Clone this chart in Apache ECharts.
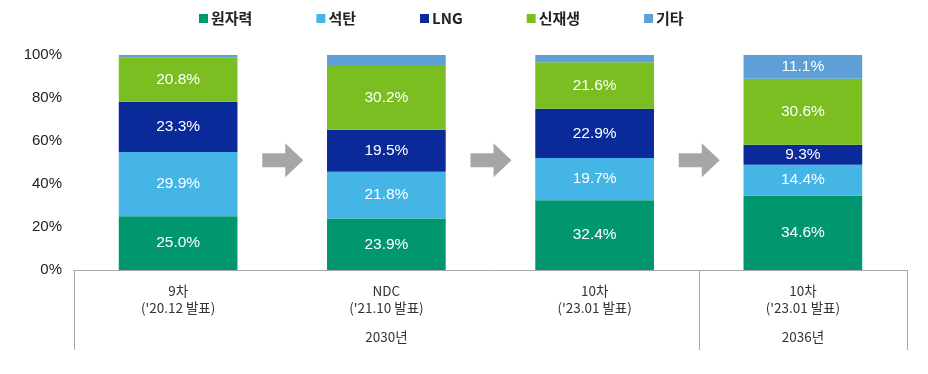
<!DOCTYPE html>
<html><head><meta charset="utf-8">
<script src="https://cdn.jsdelivr.net/npm/echarts@6/dist/echarts.min.js"></script>
<style>html,body{margin:0;padding:0;background:#fff}#c{width:928px;height:374px}</style>
</head><body><div id="c"></div>
<script>
const categories = ["9차\n('20.12 발표)", "NDC\n('21.10 발표)", "10차\n('23.01 발표)", "10차\n('23.01 발표)"];
const groupLabels = ["", "2030년", "", "2036년"];
const seriesNames = ["원자력", "석탄", "LNG", "신재생", "기타"];
const nuclear = [25.0, 23.9, 32.4, 34.6];
const coal = [29.9, 21.8, 19.7, 14.4];
const lng = [23.3, 19.5, 22.9, 9.3];
const renew = [20.8, 30.2, 21.6, 30.6];
const other = [1.0, 4.6, 3.4, 11.1];
const yTicks = [0, 20, 40, 60, 80, 100];
const colors = ["#00976F", "#45B5E6", "#0B2A9A", "#7BBE22", "#5E9FD8"];

const chart = echarts.init(document.getElementById('c'));
const values = [nuclear, coal, lng, renew, other];
const labelFont = "'Liberation Sans', Arial, sans-serif";
const krFont = "'Noto Sans CJK KR', sans-serif";

chart.setOption({
  animation: false,
  color: colors,
  legend: {
    top: 6, left: 194,
    itemWidth: 9, itemHeight: 9, itemGap: 64,
    icon: 'rect',
    textStyle: { fontFamily: krFont, fontSize: 15, fontWeight: 'bold', color: '#222', padding: [0, 0, 0, -2] },
    data: seriesNames
  },
  grid: { left: 74, right: 21, top: 55, bottom: 104 },
  xAxis: [{
    type: 'category', data: categories,
    axisLine: { show: true, lineStyle: { color: '#A6A6A6', width: 1 } },
    axisTick: { show: false },
    axisLabel: { fontFamily: krFont, fontSize: 13.5, lineHeight: 17, color: '#333', margin: 12 }
  }, {
    type: 'category', data: groupLabels, position: 'bottom', offset: 52,
    axisLine: { show: false }, axisTick: { show: false },
    axisLabel: { fontFamily: krFont, fontSize: 13.5, color: '#333', margin: 8 }
  }],
  yAxis: {
    type: 'value', min: yTicks[0], max: yTicks[yTicks.length - 1], interval: 20,
    axisLine: { show: false }, axisTick: { show: false }, splitLine: { show: false },
    axisLabel: { formatter: v => v + '%', fontFamily: labelFont, fontSize: 15, color: '#222', margin: 12 }
  },
  series: seriesNames.map((n, i) => ({
    name: n, type: 'bar', stack: 'total', barWidth: '57%',
    data: values[i],
    label: {
      show: true, position: 'inside', color: '#fff', fontFamily: labelFont, fontSize: 15.5,
      formatter: p => p.value >= 5 ? p.value.toFixed(1) + '%' : ''
    }
  }))
});

function drawExtras() {
  const g = [];
  const x0 = chart.convertToPixel({ xAxisIndex: 0 }, 0);
  const x1 = chart.convertToPixel({ xAxisIndex: 0 }, 1);
  const step = x1 - x0;
  const yBase = chart.convertToPixel({ yAxisIndex: 0 }, 0);
  const yMid = chart.convertToPixel({ yAxisIndex: 0 }, 51);
  const left = x0 - step / 2;
  const sep = left + step * 3;
  const right = left + step * 4;
  const bottom = yBase + 80;
  const ls = { stroke: '#A6A6A6', lineWidth: 1 };
  [left, sep, right].forEach(x => {
    const xx = Math.round(x) + 0.5;
    g.push({ type: 'line', shape: { x1: xx, y1: yBase, x2: xx, y2: bottom }, style: ls, silent: true });
  });
  for (let i = 0; i < 3; i++) {
    const cx = x0 + step * (i + 0.5);
    const cy = yMid;
    g.push({
      type: 'polygon', silent: true,
      shape: { points: [[cx - 20, cy - 7], [cx + 3, cy - 7], [cx + 3, cy - 17], [cx + 21, cy], [cx + 3, cy + 17], [cx + 3, cy + 7], [cx - 20, cy + 7]] },
      style: { fill: '#A6A6A6' }
    });
  }
  chart.setOption({ graphic: g });
}
drawExtras();
</script></body></html>
